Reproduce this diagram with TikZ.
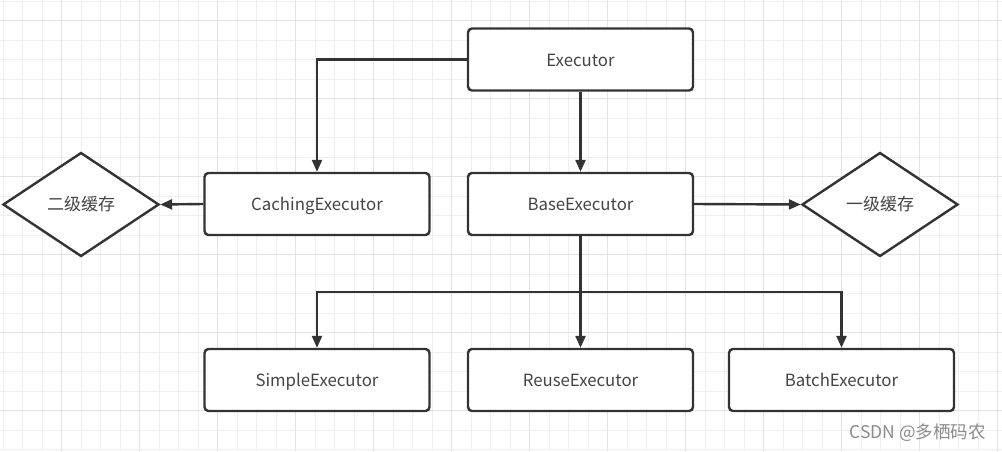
\documentclass[tikz,border=0pt]{standalone}
\usepackage{fontspec}
\setmainfont{Noto Sans CJK SC}
\usetikzlibrary{shapes.geometric,arrows.meta}
\definecolor{gridminor}{HTML}{EFEFEF}
\definecolor{gridmajor}{HTML}{E3E3E3}
\definecolor{ink}{HTML}{333333}
\definecolor{txt}{HTML}{444444}
\tikzset{
  box/.style={draw=ink, line width=2.4pt, rounded corners=4pt, fill=white, minimum width=225pt, minimum height=62pt, inner sep=0pt, font=\fontsize{16.8}{18}\selectfont, text=txt, text height=14pt, text depth=1pt},
  dia/.style={draw=ink, line width=2.4pt, diamond, fill=white, minimum width=156pt, minimum height=104pt, inner sep=0pt, aspect=1.5, font=\fontsize{17}{18}\selectfont, text=txt},
  conn/.style={draw=ink, line width=2.4pt, -{Triangle[length=12pt,width=10pt]}},
  plain/.style={draw=ink, line width=2.4pt}
}
\begin{document}
\begin{tikzpicture}[x=1pt,y=-1pt]
\useasboundingbox (0,0) rectangle (1002,451);
\fill[white] (0,0) rectangle (1002,451);
% grid
\foreach \i in {0,...,51} {
  \draw[gridminor, line width=1pt] ({3.3+19.5*\i},0) -- ({3.3+19.5*\i},451);
}
\foreach \j in {0,...,23} {
  \draw[gridminor, line width=1pt] (0,{1.2+19.5*\j}) -- (1002,{1.2+19.5*\j});
}
\foreach \i in {-1,...,13} {
  \draw[gridmajor, line width=1pt] ({61.7+78*\i},0) -- ({61.7+78*\i},451);
}
\foreach \j in {0,...,5} {
  \draw[gridmajor, line width=1pt] (0,{20.7+78*\j}) -- (1002,{20.7+78*\j});
}
% nodes
\node[box] (exec) at (580.5,59.5) {Executor};
\node[box] (cach) at (317,204) {CachingExecutor};
\node[box] (base) at (580.5,204) {BaseExecutor};
\node[box] (simp) at (317,380) {SimpleExecutor};
\node[box] (reus) at (580.5,380) {ReuseExecutor};
\node[box] (batc) at (841.5,380) {BatchExecutor};
\node[dia] (l2) at (81,204.5) {二级缓存};
\node[dia] (l1) at (880,204.5) {一级缓存};
\coordinate (j) at (580.5,292);
% connectors
\draw[conn] (exec.west) -| (cach.north);
\draw[conn] (exec.south) -- (base.north);
\draw[conn] (cach.west) -- (l2.east);
\draw[conn] (base.east) -- (l1.west);
\draw[plain] (base.south) -- (j);
\draw[conn] (j) -- (reus.north);
\draw[conn] (j) -| (simp.north);
\draw[conn] (j) -| (batc.north);
% watermark
\node[anchor=east, text=black!45, font=\fontsize{17.5}{19}\selectfont, inner sep=0pt] (wm) at (986,433) {CSDN @多栖码农};
\end{tikzpicture}
\end{document}
